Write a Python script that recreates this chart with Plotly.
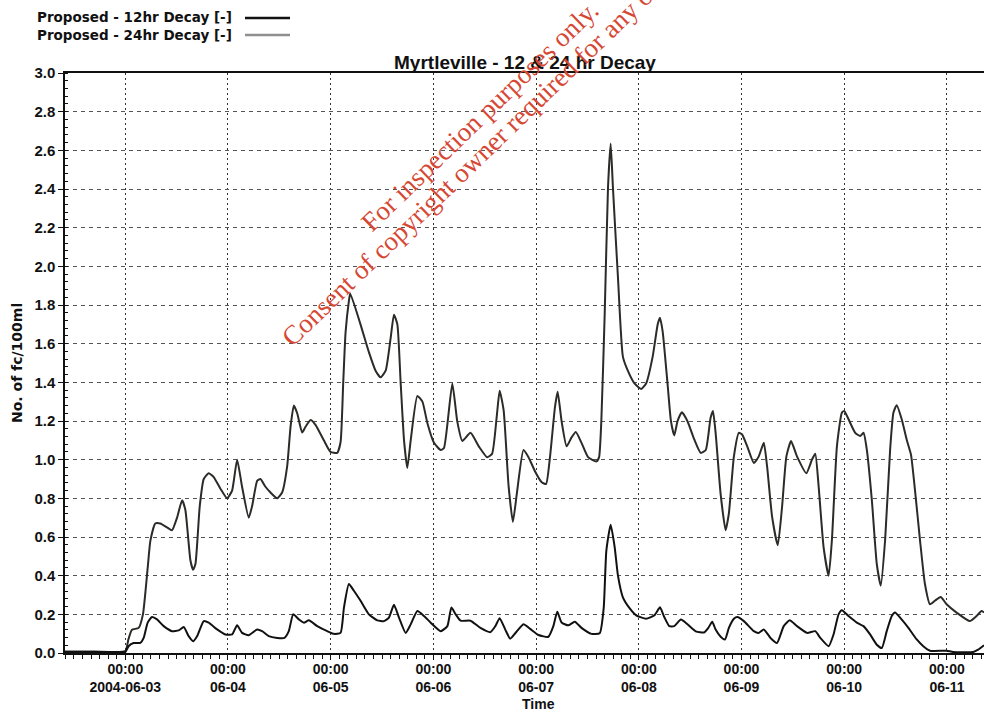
import pandas as pd
import plotly.graph_objects as go

# ---- data (days since 2004-06-03 00:00, value in No. of fc/100ml) ----
base_date = "2004-06-03"

t24 = [-0.587, -0.3, 0.0, 0.03, 0.065, 0.13, 0.172, 0.218, 0.244, 0.292, 0.341, 0.406, 0.455,
       0.504, 0.553, 0.585, 0.634, 0.66, 0.683, 0.725, 0.764, 0.812, 0.861, 0.926, 0.991, 1.04,
       1.089, 1.137, 1.202, 1.235, 1.284, 1.316, 1.365, 1.414, 1.479, 1.527, 1.576, 1.609, 1.641,
       1.674, 1.722, 1.755, 1.804, 1.852, 1.933, 1.998, 2.063, 2.096, 2.122, 2.145, 2.177, 2.19,
       2.29, 2.372, 2.437, 2.486, 2.535, 2.583, 2.616, 2.649, 2.681, 2.714, 2.746, 2.779, 2.844,
       2.893, 2.941, 3.006, 3.071, 3.103, 3.184, 3.232, 3.281, 3.361, 3.442, 3.523, 3.571, 3.619,
       3.645, 3.684, 3.732, 3.774, 3.813, 3.877, 3.926, 3.99, 4.055, 4.097, 4.135, 4.184, 4.21,
       4.248, 4.297, 4.345, 4.387, 4.442, 4.506, 4.587, 4.613, 4.635, 4.668, 4.7, 4.726, 4.748,
       4.797, 4.845, 4.894, 4.958, 5.023, 5.071, 5.135, 5.184, 5.206, 5.232, 5.281, 5.313, 5.345,
       5.377, 5.419, 5.474, 5.539, 5.603, 5.652, 5.699, 5.722, 5.748, 5.796, 5.845, 5.877, 5.926,
       5.974, 6.006, 6.055, 6.12, 6.168, 6.217, 6.249, 6.298, 6.353, 6.395, 6.437, 6.482, 6.54,
       6.631, 6.686, 6.718, 6.751, 6.799, 6.848, 6.88, 6.929, 6.977, 7.0, 7.042, 7.107, 7.155,
       7.188, 7.22, 7.269, 7.317, 7.356, 7.398, 7.447, 7.479, 7.511, 7.56, 7.608, 7.65, 7.689,
       7.738, 7.786, 7.835, 7.883, 7.939, 7.997, 8.094, 8.223, 8.288, 8.337, 8.361]
v24 = [0.008, 0.008, 0.01, 0.07, 0.12, 0.13, 0.2, 0.44, 0.58, 0.67, 0.67, 0.65, 0.635,
       0.70, 0.79, 0.74, 0.48, 0.43, 0.46, 0.76, 0.90, 0.93, 0.91, 0.85, 0.80, 0.84,
       1.0, 0.86, 0.70, 0.76, 0.89, 0.90, 0.86, 0.83, 0.80, 0.83, 0.965, 1.17, 1.28,
       1.24, 1.14, 1.17, 1.205, 1.18, 1.10, 1.04, 1.035, 1.09, 1.40, 1.66, 1.82, 1.86,
       1.70, 1.556, 1.46, 1.426, 1.46, 1.626, 1.75, 1.70, 1.40, 1.10, 0.957, 1.10, 1.33,
       1.30, 1.19, 1.087, 1.05, 1.06, 1.394, 1.199, 1.097, 1.139, 1.069, 1.013, 1.03, 1.236,
       1.357, 1.255, 0.864, 0.678, 0.827, 1.05, 1.013, 0.939, 0.883, 0.874, 1.013, 1.273, 1.351,
       1.199, 1.069, 1.115, 1.143, 1.087, 1.013, 0.991, 1.013, 1.199, 1.756, 2.407, 2.635, 2.407,
       1.942, 1.533, 1.459, 1.394, 1.366, 1.394, 1.533, 1.70, 1.734, 1.664, 1.385, 1.199, 1.125,
       1.199, 1.245, 1.199, 1.106, 1.035, 1.05, 1.217, 1.252, 1.139, 0.826, 0.635, 0.722, 1.017,
       1.139, 1.13, 1.07, 0.983, 1.017, 1.087, 0.965, 0.704, 0.557, 0.757, 1.017, 1.096, 1.017,
       0.93, 1.0, 1.031, 0.861, 0.548, 0.40, 0.583, 1.07, 1.243, 1.252, 1.209, 1.139, 1.122,
       1.139, 1.052, 0.791, 0.461, 0.348, 0.583, 1.052, 1.243, 1.282, 1.209, 1.104, 1.026, 0.843,
       0.583, 0.357, 0.252, 0.27, 0.29, 0.252, 0.209, 0.165, 0.191, 0.217, 0.21]

t12 = [-0.587, -0.3, -0.05, 0.0, 0.032, 0.081, 0.146, 0.179, 0.218, 0.26, 0.309, 0.374, 0.455,
       0.52, 0.569, 0.617, 0.66, 0.699, 0.764, 0.812, 0.894, 0.975, 1.04, 1.089, 1.137, 1.202,
       1.284, 1.332, 1.397, 1.479, 1.55, 1.592, 1.635, 1.69, 1.739, 1.787, 1.869, 1.966, 2.031,
       2.096, 2.129, 2.177, 2.226, 2.291, 2.372, 2.454, 2.519, 2.567, 2.616, 2.665, 2.73, 2.779,
       2.844, 2.909, 2.974, 3.071, 3.136, 3.175, 3.217, 3.265, 3.361, 3.458, 3.555, 3.603, 3.645,
       3.7, 3.748, 3.797, 3.877, 3.942, 4.023, 4.119, 4.168, 4.206, 4.248, 4.313, 4.377, 4.442,
       4.539, 4.619, 4.658, 4.684, 4.726, 4.765, 4.797, 4.845, 4.91, 4.974, 5.071, 5.152, 5.206,
       5.248, 5.297, 5.345, 5.41, 5.474, 5.555, 5.635, 5.677, 5.715, 5.748, 5.797, 5.839, 5.877,
       5.926, 5.958, 6.023, 6.12, 6.168, 6.217, 6.282, 6.346, 6.411, 6.469, 6.54, 6.638, 6.718,
       6.767, 6.848, 6.896, 6.945, 6.977, 7.042, 7.123, 7.188, 7.252, 7.317, 7.366, 7.414, 7.463,
       7.495, 7.544, 7.625, 7.706, 7.77, 7.835, 7.997, 8.061, 8.256, 8.304, 8.361]
v12 = [0.005, 0.005, 0.005, 0.005, 0.035, 0.052, 0.052, 0.078, 0.157, 0.186, 0.174, 0.139, 0.113,
       0.117, 0.134, 0.087, 0.061, 0.087, 0.165, 0.157, 0.122, 0.096, 0.096, 0.144, 0.104, 0.092,
       0.122, 0.113, 0.087, 0.078, 0.078, 0.113, 0.2, 0.174, 0.157, 0.169, 0.139, 0.113, 0.099,
       0.104, 0.235, 0.357, 0.322, 0.27, 0.2, 0.169, 0.165, 0.183, 0.249, 0.183, 0.104, 0.148,
       0.217, 0.191, 0.157, 0.113, 0.139, 0.235, 0.2, 0.167, 0.167, 0.13, 0.108, 0.139, 0.18,
       0.121, 0.074, 0.102, 0.149, 0.125, 0.093, 0.084, 0.139, 0.214, 0.158, 0.143, 0.162, 0.13,
       0.099, 0.102, 0.232, 0.53, 0.664, 0.548, 0.40, 0.288, 0.232, 0.195, 0.177, 0.195, 0.236,
       0.186, 0.139, 0.139, 0.173, 0.149, 0.112, 0.106, 0.13, 0.162, 0.121, 0.084, 0.07, 0.13,
       0.177, 0.186, 0.165, 0.113, 0.104, 0.122, 0.078, 0.052, 0.139, 0.169, 0.139, 0.104, 0.113,
       0.078, 0.035, 0.096, 0.2, 0.221, 0.191, 0.157, 0.139, 0.096, 0.043, 0.026, 0.113, 0.191,
       0.209, 0.183, 0.13, 0.07, 0.035, 0.012, 0.012, 0.005, 0.005, 0.017, 0.04]

tick_dates = ["2004-06-03", "2004-06-04", "2004-06-05", "2004-06-06", "2004-06-07",
              "2004-06-08", "2004-06-09", "2004-06-10", "2004-06-11"]
tick_labels = ["00:00<br>2004-06-03", "00:00<br>06-04", "00:00<br>06-05", "00:00<br>06-06",
               "00:00<br>06-07", "00:00<br>06-08", "00:00<br>06-09", "00:00<br>06-10",
               "00:00<br>06-11"]
series_names = ["Proposed - 12hr Decay [-]", "Proposed - 24hr Decay [-]"]
title_text = "Myrtleville - 12 & 24 hr Decay"
y_title = "No. of fc/100ml"
x_title = "Time"

# ---- build ----
b = pd.Timestamp(base_date)
x24 = b + pd.to_timedelta(t24, unit="D")
x12 = b + pd.to_timedelta(t12, unit="D")
x_range = [b + pd.to_timedelta(-0.587, unit="D"), b + pd.to_timedelta(8.361, unit="D")]

W, H = 984, 715
L, R, T, B = 65, 0, 73, 62
pw, ph = W - L - R, H - T - B


def px(xp):
    return (xp - L) / pw


def py(yp):
    return (H - B - yp) / ph


FONT = "Liberation Sans, Arial, sans-serif"
WIDE = "DejaVu Sans, Verdana, sans-serif"
SERIF = "Liberation Serif, Times New Roman, serif"

fig = go.Figure()
fig.add_trace(go.Scatter(x=x24, y=v24, mode="lines", name=series_names[1],
                         line=dict(color="#2b2c28", width=2, shape="spline", smoothing=0.5)))
fig.add_trace(go.Scatter(x=x12, y=v12, mode="lines", name=series_names[0],
                         line=dict(color="#111111", width=2, shape="spline", smoothing=0.5)))

fig.update_layout(
    width=W, height=H,
    margin=dict(l=L, r=R, t=T, b=B, pad=0, autoexpand=False),
    paper_bgcolor="white", plot_bgcolor="white",
    showlegend=False,
    font=dict(family=FONT, color="#111", size=14),
    title=dict(text=title_text, x=px(525), xref="paper", xanchor="center",
               y=1 - 62 / H, yref="container", yanchor="middle",
               font=dict(size=19, family=FONT, color="#111", weight="bold")),
)

fig.update_xaxes(
    type="date", range=x_range, automargin=False,
    tickmode="array", tickvals=tick_dates, ticktext=tick_labels,
    tickfont=dict(size=14, family=FONT, color="#111", weight="bold"),
    ticks="outside", ticklen=5, tickcolor="#111", tickwidth=1, ticklabelstandoff=-3,
    showline=True, linecolor="#111", linewidth=1.5, mirror=True,
    showgrid=True, gridcolor="#333", gridwidth=1, griddash="2px,3px",
    minor=dict(ticks="outside", ticklen=4, tickcolor="#111", tickmode="linear",
               dtick=2 * 3600 * 1000, tick0=base_date, showgrid=False),
    zeroline=False,
)
fig.update_yaxes(
    range=[0, 3], automargin=False, tickmode="linear", tick0=0, dtick=0.2, tickformat=".1f",
    tickfont=dict(size=15, family=FONT, color="#111", weight="bold"),
    ticks="outside", ticklen=5, tickcolor="#111",
    showline=True, linecolor="#111", linewidth=1.5,
    showgrid=True, gridcolor="#555", gridwidth=1, griddash="4px,4px",
    minor=dict(ticks="inside", ticklen=3, tickcolor="#111", dtick=0.04, tick0=0, showgrid=False),
    zeroline=False,
)

ann = []
# legend (drawn manually: text then line sample)
ann.append(dict(text=series_names[0], x=px(35), y=py(17), xref="paper", yref="paper",
                xanchor="left", yanchor="middle", showarrow=False,
                font=dict(size=13.5, family=WIDE, color="#111", weight="bold")))
ann.append(dict(text=series_names[1], x=px(35), y=py(35), xref="paper", yref="paper",
                xanchor="left", yanchor="middle", showarrow=False,
                font=dict(size=13.5, family=WIDE, color="#111", weight="bold")))
# axis titles
ann.append(dict(text=y_title, x=px(17), y=py(363), xref="paper", yref="paper",
                xanchor="center", yanchor="middle", showarrow=False, textangle=-90,
                font=dict(size=14, family=WIDE, color="#111", weight="bold")))
ann.append(dict(text=x_title, x=px(538), y=py(704), xref="paper", yref="paper",
                xanchor="center", yanchor="middle", showarrow=False,
                font=dict(size=14, family=FONT, color="#111", weight="bold")))
# watermark
WM = "rgb(214,72,52)"
ann.append(dict(text="For inspection purposes only.", x=px(480), y=py(116),
                xref="paper", yref="paper", xanchor="center", yanchor="middle",
                showarrow=False, textangle=-44,
                font=dict(size=27, family=SERIF, color=WM)))
ann.append(dict(text="Consent of copyright owner required for any other use.", x=px(500), y=py(135),
                xref="paper", yref="paper", xanchor="center", yanchor="middle",
                showarrow=False, textangle=-44,
                font=dict(size=27, family=SERIF, color=WM)))
fig.update_layout(annotations=ann)

shapes = [
    dict(type="line", xref="paper", yref="paper", x0=px(245), x1=px(290), y0=py(18), y1=py(18),
         line=dict(color="#111111", width=2.5)),
    dict(type="line", xref="paper", yref="paper", x0=px(245), x1=px(290), y0=py(35), y1=py(35),
         line=dict(color="#8f8f8f", width=2.5)),
]
fig.update_layout(shapes=shapes)

fig.write_html("out.html", config={"displayModeBar": False},
               post_script="document.body.style.margin='0';document.body.style.overflow='hidden';")
